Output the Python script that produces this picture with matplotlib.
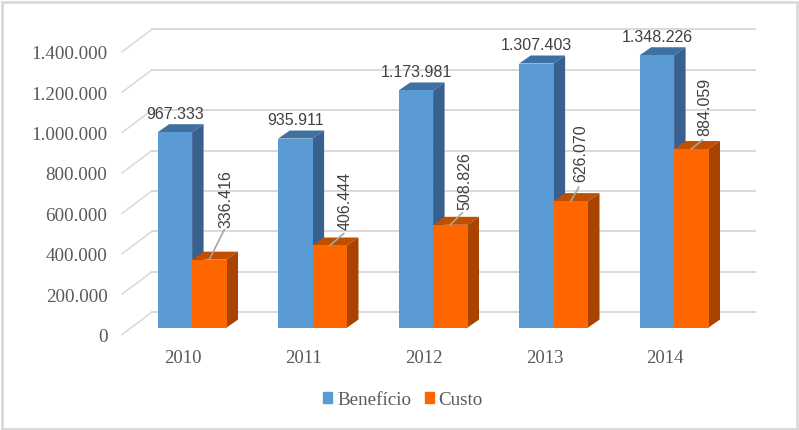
import matplotlib
matplotlib.use('Agg')
import matplotlib.pyplot as plt
import matplotlib.patches as mpatches
from matplotlib.transforms import ScaledTranslation

plt.rcParams['font.family'] = ['Liberation Serif']

# dados
anos = ['2010', '2011', '2012', '2013', '2014']
beneficio = [967333, 935911, 1173981, 1307403, 1348226]
custo = [336416, 406444, 508826, 626070, 884059]
beneficio_txt = ['967.333', '935.911', '1.173.981', '1.307.403', '1.348.226']
custo_txt = ['336.416', '406.444', '508.826', '626.070', '884.059']
eixo_y = [0, 200000, 400000, 600000, 800000, 1000000, 1200000, 1400000]
eixo_y_txt = ['0', '200.000', '400.000', '600.000', '800.000', '1.000.000', '1.200.000', '1.400.000']

W, H = 799, 431
PX_X = 120.5       # pixels por grupo
PX_Y = 0.000202    # pixels por unidade
BASE = 328.6       # linha de base das barras, em pixels
dx = lambda p: p / PX_X
dy = lambda p: p / PX_Y

fig = plt.figure(figsize=(W / 100, H / 100), dpi=100, facecolor='white')
ax = fig.add_axes([122 / W, 1 - 335 / H, (755 - 122) / W, (335 - 29) / H])
ax.set_xlim(dx(122 - 183), dx(755 - 183))
ax.set_ylim(dy(BASE - 335), dy(BASE - 29))
for s in ax.spines.values():
    s.set_visible(False)
ax.patch.set_alpha(0)

# moldura
fig.patches.append(mpatches.Rectangle((1.5 / W, 1.5 / H), (W - 3.5) / W, (H - 4) / H, transform=fig.transFigure,
                                      fill=False, edgecolor='#d9d9d9', linewidth=2))

# parede do fundo
fundo = dy(15.5)
for v in eixo_y:
    ax.plot([dx(152 - 183), dx(755 - 183)], [v + fundo, v + fundo], color='#d9d9d9', lw=1.4, zorder=1, clip_on=False)
    ax.plot([dx(122 - 183), dx(152 - 183)], [v - dy(7), v + fundo], color='#d9d9d9', lw=1.1, zorder=1, clip_on=False)

# eixos
ax.set_yticks(eixo_y)
ax.set_yticklabels(eixo_y_txt, fontsize=13.7, color='#595959')
ax.set_xticks(range(len(anos)))
ax.set_xticklabels(anos, fontsize=13.5, color='#595959')
ax.tick_params(axis='y', length=0, pad=10.5)
ax.tick_params(axis='x', length=0, pad=11)
desloca = ScaledTranslation(0, -7 / 100, fig.dpi_scale_trans)
for t in ax.get_yticklabels():
    t.set_transform(t.get_transform() + desloca)

# barras 3D
larg = dx(34.4)
prof_x = dx(11.5)
prof_y = dy(8)


def barra3d(x, v, cor, cor_topo, cor_lado, z):
    ax.bar(x, v, width=larg, align='edge', color=cor, zorder=z + 0.2)
    topo = [(x, v), (x + prof_x, v + prof_y), (x + larg + prof_x, v + prof_y), (x + larg, v)]
    lado = [(x + larg, 0), (x + larg + prof_x, prof_y), (x + larg + prof_x, v + prof_y), (x + larg, v)]
    ax.add_patch(mpatches.Polygon(topo, color=cor_topo, lw=0, zorder=z))
    ax.add_patch(mpatches.Polygon(lado, color=cor_lado, lw=0, zorder=z))


# rótulos do Custo: (fim da guia, centro do texto), em pixels a partir do topo da barra
guia_px = [(15, 30), (14, 12), (12, 12), (8, 14), (11, 9)]
texto_px = [(16.5, 62), (15.5, 46), (14.5, 45), (9.5, 49), (13.5, 43)]

for i in range(len(anos)):
    x0 = i + dx(157.7 - 183)
    x1 = x0 + larg
    barra3d(x0, beneficio[i], '#5b9bd5', '#3e70a1', '#386190', 3)
    barra3d(x1, custo[i], '#ff6600', '#c04f00', '#a84300', 4)

    ax.annotate(beneficio_txt[i], (x0 + larg / 2, beneficio[i]), xytext=(0, 19 * 0.72), textcoords='offset points',
                ha='center', va='center', fontfamily='Liberation Sans', fontsize=11.5, color='#404040', zorder=6)

    cx = x1 + larg / 2
    gx, gy = guia_px[i]
    ax.plot([cx, cx + dx(gx)], [custo[i], custo[i] + dy(gy)], color='#a6a6a6', lw=1.2, zorder=5)
    tx, ty = texto_px[i]
    ax.annotate(custo_txt[i], (cx, custo[i]), xytext=(tx * 0.72, ty * 0.72), textcoords='offset points', rotation=90,
                ha='center', va='center', fontfamily='Liberation Sans', fontsize=11.5, color='#404040', zorder=6)

# legenda
leg = [mpatches.Patch(color='#5b9bd5', label='Benefício'), mpatches.Patch(color='#ff6600', label='Custo')]
fig.legend(handles=leg, loc='center', bbox_to_anchor=(403 / W, 1 - 400.5 / H), ncol=2, frameon=False,
           prop={'family': 'Liberation Serif', 'size': 13.7}, labelcolor='#595959', handlelength=0.48,
           handleheight=0.48, handletextpad=0.25, columnspacing=0.72)

plt.savefig('out.png', dpi=100)
